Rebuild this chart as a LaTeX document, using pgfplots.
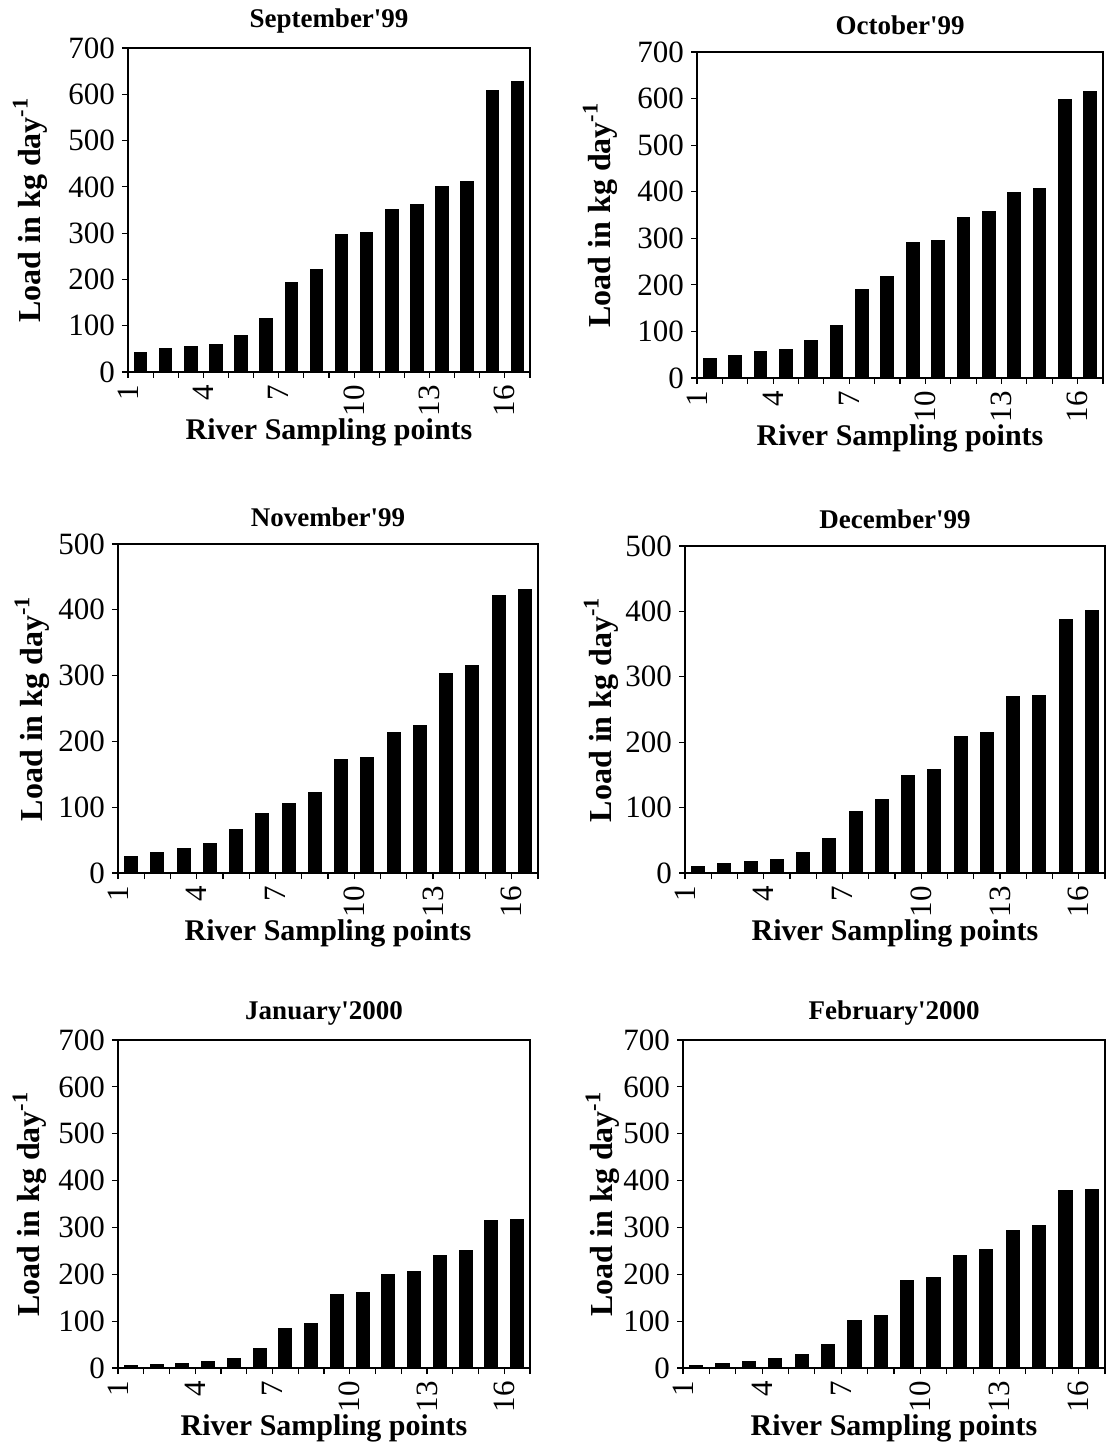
\documentclass[border=0pt]{standalone}
\usepackage{fontspec}
\setmainfont{Liberation Serif}
\usepackage{pgfplots}
\usepackage{pgfplotstable}
\pgfplotsset{compat=1.18}

\pgfplotstableread{
pt sep oct nov dec jan feb
1 42 41 25 10 5 6
2 50 48 31 14 8 9
3 54 56 37 18 9 14
4 60 62 45 20 14 20
5 78 81 66 31 20 28
6 116 113 90 53 41 50
7 194 191 105 94 84 101
8 221 217 123 112 96 113
9 296 292 172 149 156 187
10 302 295 176 159 161 193
11 352 345 214 209 200 240
12 361 358 224 215 207 253
13 401 398 303 270 241 294
14 411 406 316 272 251 304
15 608 598 421 388 314 379
16 627 616 431 401 318 381
}\loads

\pgfplotsset{
  panel/.style={
    scale only axis,
    anchor=north west,
    /pgf/number format/assume math mode=true,
    ybar, bar width=0.5,
    xmin=0.5, xmax=16.5,
    ymin=0,
    axis line style={line width=0.7pt},
    xtick={0.5,1.5,2.5,3.5,4.5,5.5,6.5,7.5,8.5,9.5,10.5,11.5,12.5,13.5,14.5,15.5,16.5},
    xticklabels={1,,,4,,,7,,,10,,,13,,,16,},
    xticklabel style={rotate=90, anchor=east, font=\fontsize{15.5}{15.5}\selectfont},
    yticklabel style={font=\fontsize{15.5}{15.5}\selectfont},
    ytick distance=100,
    tick align=outside,
    tick pos=left,
    major tick length=3pt,
    tick style={black, line width=0.6pt},
    title style={at={(axis description cs:0.5,1)}, anchor=center, yshift=7.5pt, font=\bfseries\fontsize{13.5}{13.5}\selectfont},
    xlabel={River Sampling points},
    xlabel style={at={(axis description cs:0.5,0)}, anchor=center, yshift=-30pt, font=\bfseries\fontsize{15}{15}\selectfont},
    ylabel={Load in kg day\textsuperscript{-1}},
    ylabel style={anchor=center, font=\bfseries\fontsize{16}{16}\selectfont},
    grid=none,
  },
  bars/.style={fill=black, draw=black, line width=0pt}
}

\begin{document}
\begin{tikzpicture}
\path[use as bounding box] (0,0) rectangle (554.5pt,-722.5pt);

\begin{axis}[panel, at={(64pt,-24pt)}, width=201pt, height=162pt, ymax=700,
  title={September\textquotesingle 99},
  ylabel style={at={(axis description cs:-0.244,0.5)}}]
\addplot[bars] table[x=pt, y=sep] {\loads};
\end{axis}

\begin{axis}[panel, at={(348.5pt,-26pt)}, width=203pt, height=163pt, ymax=700,
  title={October\textquotesingle 99},
  ylabel style={at={(axis description cs:-0.239,0.5)}}]
\addplot[bars] table[x=pt, y=oct] {\loads};
\end{axis}

\begin{axis}[panel, at={(59pt,-272pt)}, width=210pt, height=164.5pt, ymax=500,
  title={November\textquotesingle 99},
  ylabel style={at={(axis description cs:-0.205,0.5)}}]
\addplot[bars] table[x=pt, y=nov] {\loads};
\end{axis}

\begin{axis}[panel, at={(342.5pt,-273pt)}, width=210pt, height=163.5pt, ymax=500,
  title={December\textquotesingle 99},
  ylabel style={at={(axis description cs:-0.2,0.5)}}]
\addplot[bars] table[x=pt, y=dec] {\loads};
\end{axis}

\begin{axis}[panel, at={(59pt,-520pt)}, width=206pt, height=164pt, ymax=700,
  title={January\textquotesingle 2000},
  ylabel style={at={(axis description cs:-0.214,0.5)}}]
\addplot[bars] table[x=pt, y=jan] {\loads};
\end{axis}

\begin{axis}[panel, at={(341.5pt,-520pt)}, width=211pt, height=164pt, ymax=700,
  title={February\textquotesingle 2000},
  ylabel style={at={(axis description cs:-0.19,0.5)}}]
\addplot[bars] table[x=pt, y=feb] {\loads};
\end{axis}
\end{tikzpicture}
\end{document}
